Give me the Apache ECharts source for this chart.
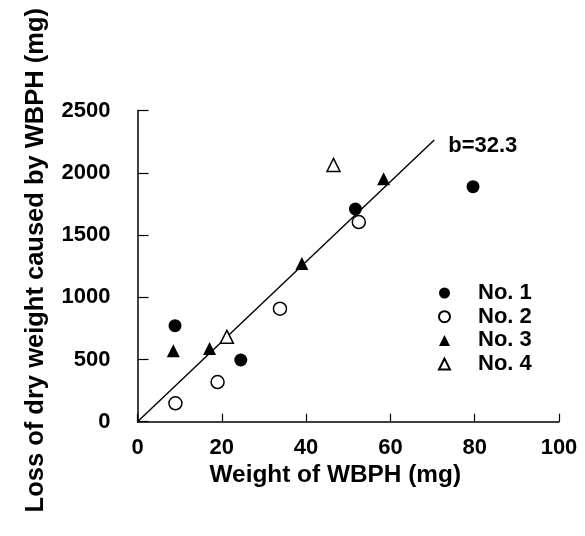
<!DOCTYPE html>
<html><head><meta charset="utf-8">
<script src="https://cdn.jsdelivr.net/npm/echarts@6/dist/echarts.min.js"></script>
<style>html,body{margin:0;padding:0;background:#fff}#c{width:585px;height:536px}</style>
</head><body><div id="c"></div>
<script>
const no1 = [[8.9, 772], [24.5, 496], [51.7, 1710], [79.6, 1889]];
const no2 = [[9.0, 148], [19.0, 319], [33.8, 908], [52.5, 1605]];
const no3 = [[8.5, 570], [17.1, 588], [39.0, 1272], [58.4, 1952]];
const no4 = [[21.2, 682], [46.5, 2064]];
const regLine = [[0, 0], [70.4, 2265]];
const slopeLabel = 'b=32.3';
const xTicks = [0, 20, 40, 60, 80, 100];
const yTicks = [0, 500, 1000, 1500, 2000, 2500];

const FONT = '"Liberation Sans", Arial, Helvetica, sans-serif';
const chart = echarts.init(document.getElementById('c'), null, {renderer: 'canvas'});
const mk = (name, data, symbol, filled) => ({
  name, type: 'scatter', data, symbol, symbolSize: 13,
  itemStyle: {color: filled ? '#000' : '#fff', borderColor: '#000', borderWidth: filled ? 0 : 1.5, opacity: 1},
  z: 3
});
chart.setOption({
  animation: false,
  backgroundColor: '#fff',
  textStyle: {fontFamily: FONT},
  grid: {left: 137.5, right: 26, top: 110.7, bottom: 114.3, containLabel: false},
  xAxis: {
    type: 'value', min: xTicks[0], max: xTicks[xTicks.length - 1], interval: 20,
    name: 'Weight of WBPH (mg)', nameLocation: 'middle', nameGap: 30,
    nameTextStyle: {fontSize: 24.4, fontWeight: 'bold', color: '#000', fontFamily: FONT, padding: [0, 26, 0, 0]},
    axisLine: {lineStyle: {color: '#000', width: 1.5}},
    axisTick: {inside: true, length: 8, lineStyle: {color: '#000', width: 1.2}},
    axisLabel: {fontSize: 22, fontWeight: 'bold', color: '#000', margin: 15, fontFamily: FONT,
      formatter: v => String(v)},
    splitLine: {show: false}
  },
  yAxis: {
    type: 'value', min: yTicks[0], max: yTicks[yTicks.length - 1], interval: 500,
    name: 'Loss of dry weight caused by WBPH (mg)', nameLocation: 'middle', nameGap: 89,
    nameTextStyle: {fontSize: 25.5, fontWeight: 'bold', color: '#000', fontFamily: FONT, padding: [0, 0, 0, 12]},
    axisLine: {show: true, lineStyle: {color: '#000', width: 1.5}},
    axisTick: {show: true, inside: true, length: 11, lineStyle: {color: '#000', width: 1.2}},
    axisLabel: {fontSize: 22, fontWeight: 'bold', color: '#000', margin: 27, fontFamily: FONT,
      formatter: v => String(v)},
    splitLine: {show: false}
  },
  legend: {
    orient: 'vertical', left: 433, top: 277, itemWidth: 11, itemHeight: 11, itemGap: 1.7,
    data: ['No. 1', 'No. 2', 'No. 3', 'No. 4'],
    textStyle: {fontSize: 22, fontWeight: 'bold', color: '#000', fontFamily: FONT, lineHeight: 22, padding: [0, 0, 0, 23]}
  },
  series: [
    {
      name: 'reg', type: 'line', data: regLine,
      symbol: 'none', showSymbol: false, lineStyle: {color: '#000', width: 1.4}, z: 2, silent: true,
      endLabel: {show: true, formatter: slopeLabel, offset: [9, 6], distance: 5,
        fontSize: 22, fontWeight: 'bold', color: '#000', fontFamily: FONT}
    },
    mk('No. 1', no1, 'circle', true),
    mk('No. 2', no2, 'circle', false),
    mk('No. 3', no3, 'triangle', true),
    mk('No. 4', no4, 'triangle', false)
  ]
});
</script></body></html>
